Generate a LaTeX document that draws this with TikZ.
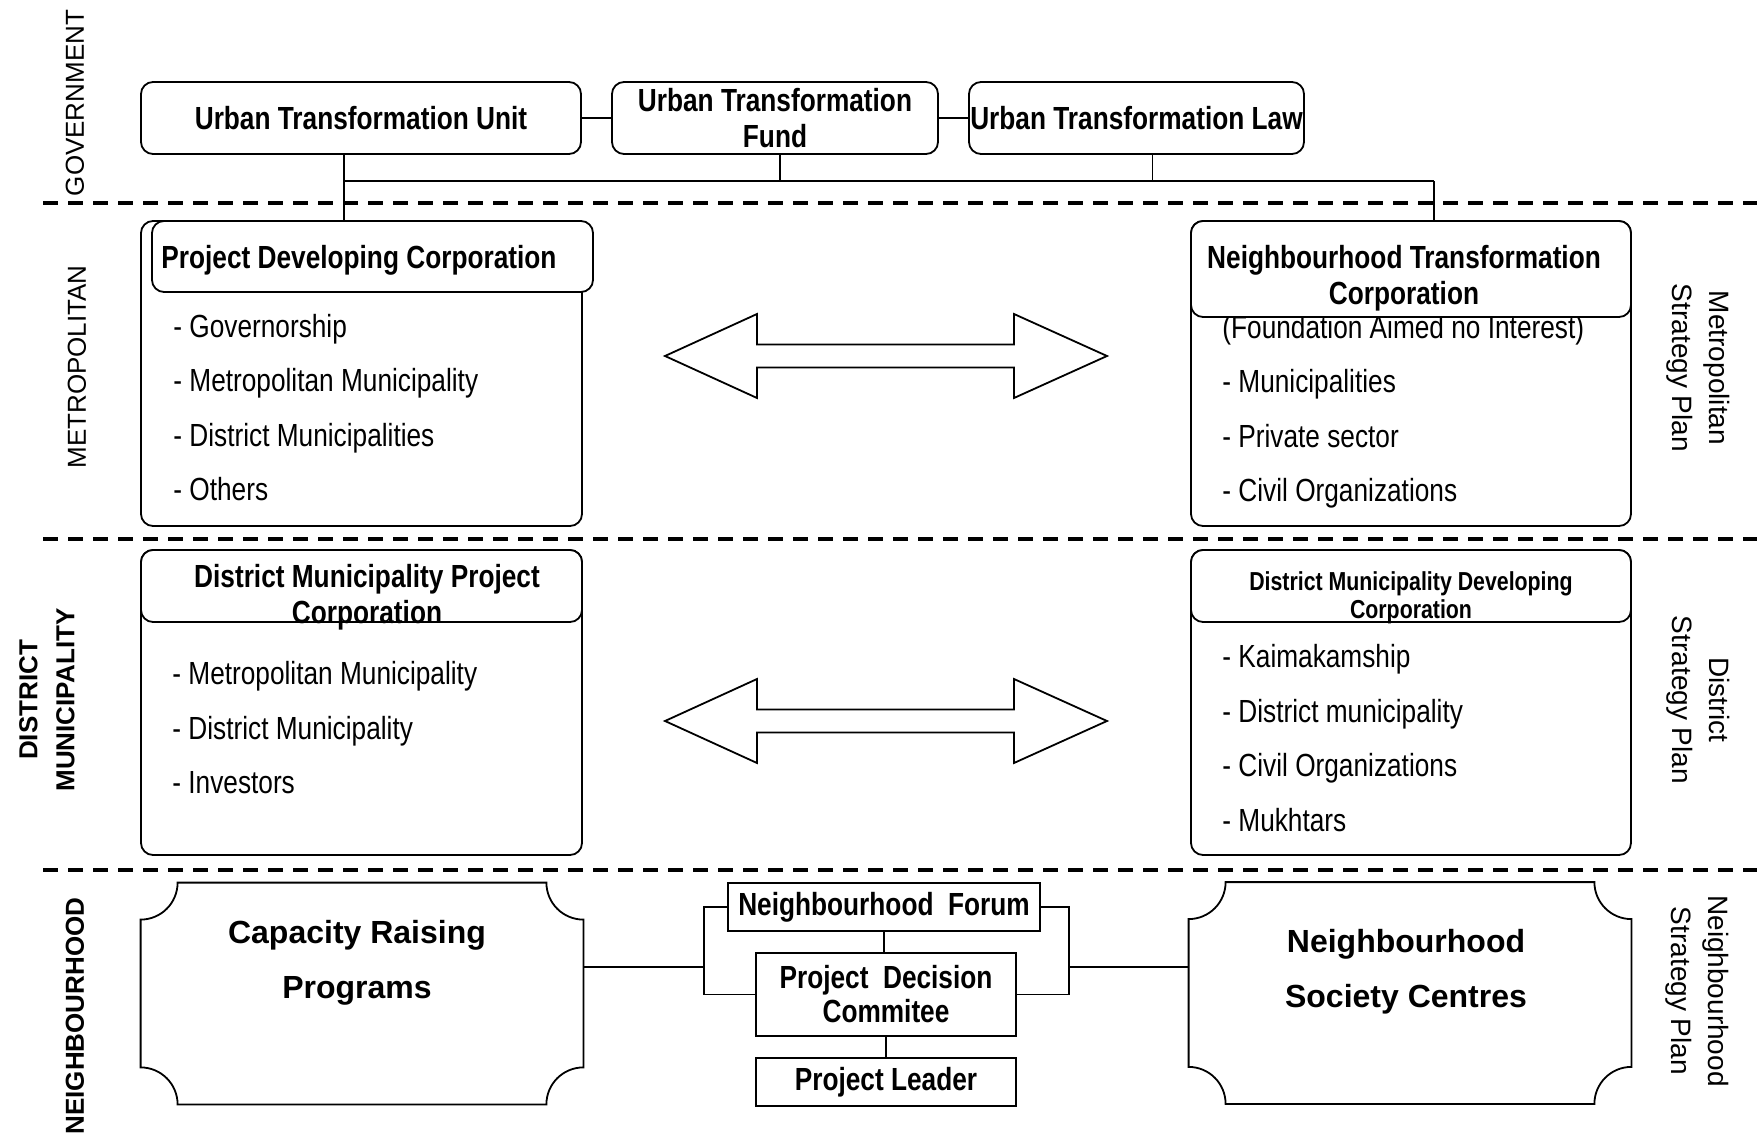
\documentclass[tikz,border=0pt]{standalone}
\usepackage{fontspec}
\setmainfont{Liberation Sans}
\newfontfamily\narrowfont{Liberation Sans}[FakeStretch=0.82]
\usetikzlibrary{calc,positioning}

\newcommand\plaque[1]{%
  \draw[boxline] ([xshift=18.5pt]#1.north west) -- ([xshift=-18.5pt]#1.north east)
    arc[start angle=180,end angle=270,radius=18.5pt]
    -- ([yshift=18.5pt]#1.south east)
    arc[start angle=90,end angle=180,radius=18.5pt]
    -- ([xshift=18.5pt]#1.south west)
    arc[start angle=0,end angle=90,radius=18.5pt]
    -- ([yshift=-18.5pt]#1.north west)
    arc[start angle=270,end angle=360,radius=18.5pt]
    -- cycle;}

\begin{document}
\begin{tikzpicture}[x=0.5pt,y=-0.5pt,
  boxline/.style={line width=0.9pt},
  link/.style={line width=0.9pt},
  sep/.style={line width=2pt,dash pattern=on 7.5pt off 5pt},
  rbox/.style={draw,line width=0.9pt,rounded corners=6pt,fill=white,inner sep=0pt,
    align=center,font=\narrowfont\bfseries\fontsize{16}{18}\selectfont},
  sbox/.style={draw,line width=0.9pt,fill=white,inner sep=0pt,
    align=center,font=\narrowfont\bfseries\fontsize{16}{17}\selectfont},
  htext/.style={inner sep=0pt,align=center,font=\narrowfont\bfseries\fontsize{16}{18}\selectfont},
  item/.style={anchor=west,inner sep=0pt,text height=12pt,text depth=0pt,
    font=\narrowfont\fontsize{16}{18}\selectfont},
  frame/.style={inner sep=0pt,minimum width=221pt,minimum height=110.5pt},
  level/.style={rotate=90,align=center,inner sep=0pt,font=\fontsize{13}{18.5}\selectfont},
  plan/.style={rotate=-90,align=center,inner sep=0pt,font=\fontsize{14}{18.5}\selectfont},
  big/.style={align=center,inner sep=0pt,font=\bfseries\fontsize{16}{27.5}\selectfont},
  blockarrow/.style={line width=0.9pt,fill=white}]

\useasboundingbox (0,0) rectangle (1757,1139);

\foreach \y in {203,539,870}
  \draw[sep] (43,\y) -- (1757,\y);

\node[level] (gov) at (75,103) {GOVERNMENT};
\node[level] (metro) at (77,367) {METROPOLITAN};
\node[level,font=\bfseries\fontsize{13}{18.5}\selectfont] (dist) at (47,700) {DISTRICT\\MUNICIPALITY};
\node[level,font=\bfseries\fontsize{13}{18.5}\selectfont] (neigh) at (75,1016) {NEIGHBOURHOOD};

\node[plan] (mplan) at (1698,368) {Metropolitan\\Strategy Plan};
\node[plan] (dplan) at (1698,700) {District\\Strategy Plan};
\node[plan] (nplan) at (1697,991) {Neighbourhood\\Strategy Plan};

\node[rbox,minimum width=220pt,minimum height=36pt] (utu) at (361,118) {Urban Transformation Unit};
\node[rbox,minimum width=163pt,minimum height=36pt] (fund) at (775,118) {Urban Transformation\\Fund};
\node[rbox,minimum width=167.5pt,minimum height=36pt] (law) at (1136.5,118) {Urban Transformation Law};
\draw[link] (utu) -- (fund);
\draw[link] (fund) -- (law);
\coordinate (tl) at (344,181);
\coordinate (tr) at (1434,181);
\draw[link] (tl) -- (tr);
\draw[link] ([xshift=2.5pt]fund.south) -- ([xshift=2.5pt]fund.south |- tl);
\draw[link] ([xshift=8pt]law.south) -- ([xshift=8pt]law.south |- tl);

\node[rbox,minimum width=220.5pt,minimum height=152.5pt] (pdc) at (361.5,373.5) {};
\node[rbox,minimum width=220.5pt,minimum height=35.5pt] (pdcHead) at (372.5,256.5) {};
\node[htext,anchor=west] (pdcTitle) at (161,260) {Project Developing Corporation};
\draw[link] (utu.south -| tl) -- (pdcHead.north -| tl);
\foreach \t [count=\i] in {Governorship,Metropolitan Municipality,District Municipalities,Others}
  \node[item] (pdc-\i) at (173,270.5+54.5*\i) {- \t};

\node[rbox,minimum width=220pt,minimum height=152.5pt] (ntc) at (1411,373.5) {};
\node[item] (found) at (1222,327) {(Foundation Aimed no Interest)};
\foreach \t [count=\i] in {Municipalities,Private sector,Civil Organizations}
  \node[item] (ntc-\i) at (1222,327+54*\i) {- \t};
\node[rbox,minimum width=220pt,minimum height=48pt] (ntcHead) at (1411,269) {};
\node[htext] (ntcTitle) at (1404,278) {Neighbourhood Transformation\\Corporation};
\draw[link] (tr) -- (ntcHead.north -| tr);

\foreach \y in {356,721}
  \draw[blockarrow] (665,\y) -- (757,\y-42) -- (757,\y-11.5) -- (1014,\y-11.5)
    -- (1014,\y-42) -- (1107,\y) -- (1014,\y+42) -- (1014,\y+11.5)
    -- (757,\y+11.5) -- (757,\y+42) -- cycle;

\node[rbox,minimum width=220.5pt,minimum height=152.5pt] (dmpc) at (361.5,702.5) {};
\node[rbox,minimum width=220.5pt,minimum height=36pt] (dmpcHead) at (361.5,586) {};
\node[htext] (dmpcTitle) at (367,597) {District Municipality Project\\Corporation};
\foreach \t [count=\i] in {Metropolitan Municipality,District Municipality,Investors}
  \node[item] (dmpc-\i) at (172,618+54.5*\i) {- \t};

\node[rbox,minimum width=220pt,minimum height=152.5pt] (dmdc) at (1411,702.5) {};
\node[rbox,minimum width=220pt,minimum height=36pt] (dmdcHead) at (1411,586) {};
\node[htext,font=\narrowfont\bfseries\fontsize{13}{14}\selectfont] (dmdcTitle) at (1411,598)
  {District Municipality Developing\\Corporation};
\foreach \t [count=\i] in {Kaimakamship,District municipality,Civil Organizations,Mukhtars}
  \node[item] (dmdc-\i) at (1222,601+54.5*\i) {- \t};

\node[frame] (cap) at (362,993.5) {};
\plaque{cap}
\node[big] (capText) at (357,963) {Capacity Raising\\Programs};
\node[frame] (nsc) at (1410,993) {};
\plaque{nsc}
\node[big] (nscText) at (1406,972) {Neighbourhood\\Society Centres};

\node[sbox,minimum width=156pt,minimum height=24pt] (nf) at (884,907) {Neighbourhood\ \ Forum};
\node[sbox,minimum width=130pt,minimum height=41.5pt] (pdm) at (886,994.5) {Project\ \ Decision\\Commitee};
\node[sbox,minimum width=130pt,minimum height=24pt] (pl) at (886,1082) {Project Leader};
\draw[link] (nf.south) -- (nf.south |- pdm.north);
\draw[link] (pdm) -- (pl);
\coordinate (lb) at (704,967);
\coordinate (rb) at (1069,967);
\draw[link] (nf.west) -| (lb) |- (pdm.west);
\draw[link] (nf.east) -| (rb) |- (pdm.east);
\draw[link] (cap.east |- lb) -- (lb);
\draw[link] (rb) -- (nsc.west |- rb);
\end{tikzpicture}
\end{document}
